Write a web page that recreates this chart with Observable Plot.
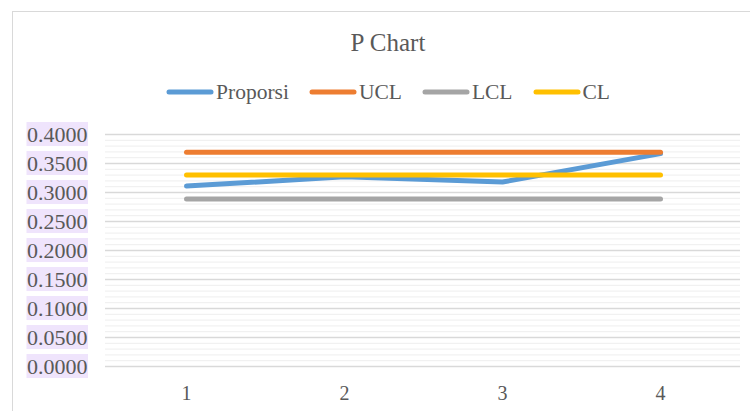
<!DOCTYPE html>
<html>
<head>
<meta charset="utf-8">
<script src="https://cdn.jsdelivr.net/npm/d3@7"></script>
<script src="https://cdn.jsdelivr.net/npm/@observablehq/plot@0.6"></script>
<style>
  html, body { margin: 0; padding: 0; background: #fff; }
  #wrap { position: relative; width: 750px; height: 411px; overflow: hidden; font-family: "Liberation Serif", "Times New Roman", serif; color: #595959; }
  #frame { position: absolute; left: 12px; top: 11px; width: 800px; height: 500px; border: 1px solid #d9d9d9; box-sizing: border-box; }
  #title { position: absolute; left: 0; top: 28px; width: 776px; text-align: center; font-size: 25px; line-height: 30px; }
  #legend { position: absolute; left: 0; top: 80px; width: 776px; height: 24px; display: flex; justify-content: center; align-items: center; font-size: 21.5px; }
  .item { display: flex; align-items: center; margin: 0 10px; }
  .item svg { margin-right: 2px; }
  #chart { position: absolute; left: 0; top: 110px; }
</style>
</head>
<body>
<div id="wrap">
  <div id="frame"></div>
  <div id="title">P Chart</div>
  <div id="legend"></div>
  <div id="chart"></div>
</div>
<script>
const samples = [1, 2, 3, 4];
const proporsi = [0.311, 0.327, 0.318, 0.367];
const ucl = [0.3695, 0.3695, 0.3695, 0.3695];
const lcl = [0.289, 0.289, 0.289, 0.289];
const cl = [0.330, 0.330, 0.330, 0.330];
const seriesNames = ["Proporsi", "UCL", "LCL", "CL"];
const seriesColors = ["#5B9BD5", "#ED7D31", "#A5A5A5", "#FFC000"];
const yTicks = [0, 0.05, 0.10, 0.15, 0.20, 0.25, 0.30, 0.35, 0.40];
const yMinorTicks = [0.01,0.02,0.03,0.04,0.06,0.07,0.08,0.09,0.11,0.12,0.13,0.14,0.16,0.17,0.18,0.19,0.21,0.22,0.23,0.24,0.26,0.27,0.28,0.29,0.31,0.32,0.33,0.34,0.36,0.37,0.38,0.39];

const seriesValues = [proporsi, ucl, lcl, cl];
const rows = (vals) => samples.map((s, i) => ({sample: s, value: vals[i]}));

// Legend
const legend = document.getElementById("legend");
seriesNames.forEach((name, i) => {
  const item = document.createElement("div");
  item.className = "item";
  item.innerHTML = `<svg width="48" height="8"><line x1="3" y1="4" x2="45" y2="4" stroke="${seriesColors[i]}" stroke-width="5" stroke-linecap="round"/></svg><span>${name}</span>`;
  legend.appendChild(item);
});

const marks = [
  Plot.ruleY(yMinorTicks, {stroke: "#eeeeee", strokeWidth: 1}),
  Plot.ruleY(yTicks, {stroke: "#d9d9d9", strokeWidth: 1.5}),
  Plot.axisY(yTicks, {tickSize: 0, tickPadding: 18, tickFormat: d => d.toFixed(4), fill: "#595959", fontSize: 22}),
  Plot.axisX(samples, {tickSize: 0, tickPadding: 19, fill: "#595959", fontSize: 20})
];
seriesValues.forEach((vals, i) => {
  marks.push(Plot.line(rows(vals), {x: "sample", y: "value", stroke: seriesColors[i], strokeWidth: 5, strokeLinecap: "round", strokeLinejoin: "round"}));
});

const plot = Plot.plot({
  width: 750,
  height: 301,
  marginTop: 24,
  marginBottom: 45,
  marginLeft: 105,
  marginRight: 10,
  style: {fontFamily: "Liberation Serif, Times New Roman, serif", fontSize: "20px", color: "#595959", background: "transparent", overflow: "visible"},
  x: {type: "point", domain: samples, padding: 0.5, label: null},
  y: {domain: [0, 0.4], label: null},
  marks
});
document.getElementById("chart").appendChild(plot);

// Lavender background boxes behind y tick labels
const yLabels = plot.querySelectorAll('g[aria-label="y-axis tick label"] text');
yLabels.forEach(t => {
  const b = t.getBBox();
  const r = document.createElementNS("http://www.w3.org/2000/svg", "rect");
  r.setAttribute("x", b.x - 0.5);
  r.setAttribute("y", b.y + 0.5);
  r.setAttribute("width", b.width + 1);
  r.setAttribute("height", b.height - 1);
  r.setAttribute("fill", "#efe4fc");
  const tr = t.getAttribute("transform");
  if (tr) r.setAttribute("transform", tr);
  t.parentNode.insertBefore(r, t);
});
</script>
</body>
</html>
